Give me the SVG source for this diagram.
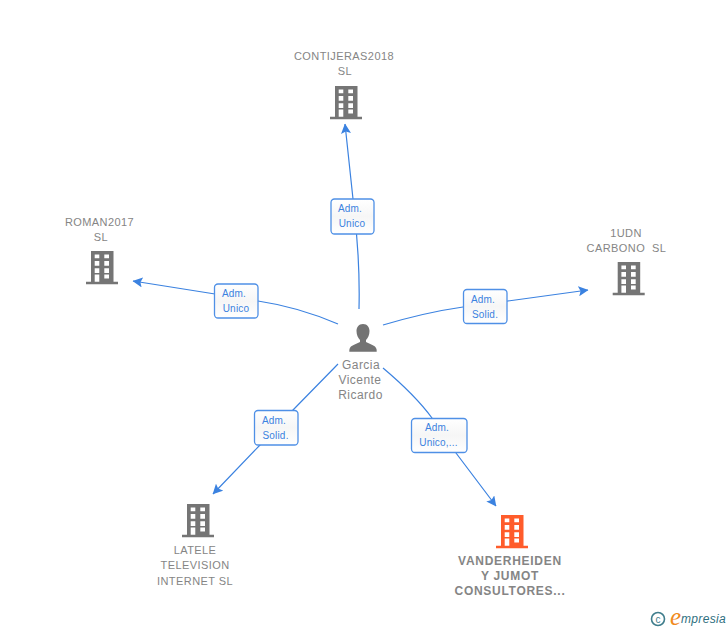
<svg xmlns="http://www.w3.org/2000/svg" width="728" height="630" viewBox="0 0 728 630">
<style>
.n{font:11px "Liberation Sans",Arial,sans-serif;fill:#858585;text-anchor:middle;letter-spacing:.42px}
.c{font-size:12px;letter-spacing:.45px}
.v{font-size:12px;font-weight:bold;letter-spacing:.72px}
.l{font:10px "Liberation Sans",Arial,sans-serif;fill:#3b82e0;text-anchor:middle;letter-spacing:.2px}
.b{fill:url(#g);stroke:#4f90e6;stroke-width:1.3}
.e{fill:none;stroke:#3b82e0;stroke-width:1.200;marker-end:url(#a)}
</style>
<defs>
<marker id="a" viewBox="0 0 10 10" refX="9.500" refY="5" markerUnits="userSpaceOnUse" markerWidth="10" markerHeight="10" orient="auto"><path d="M0 0L10 5L0 10L2 5Z" fill="#3b82e0"/></marker>
<linearGradient id="g" x1="0" y1="0" x2="0" y2="1"><stop offset="0" stop-color="#fff"/><stop offset=".5" stop-color="#f6f6f6"/><stop offset="1" stop-color="#fff"/></linearGradient>
<path id="bld" fill-rule="evenodd" d="M-11 0H11.500V30.700H16V33.300H-16V30.700H-11ZM-7.300 3.500V7.300H-2.700V3.500ZM2.300 3.500V7.300H7V3.500ZM-7.300 10V14.700H-2.700V10ZM2.300 10V14.700H7V10ZM-7.300 17.300V22H-2.700V17.300ZM2.300 17.300V22H7V17.300ZM-7.300 23.500V30.700H-2.700V23.500ZM2.300 23.500V27.500H7V23.500Z"/>
</defs>
<rect width="728" height="630" fill="#fff"/>
<g id="connectors">
<path class="e" d="M359 309C360 270 358 240 353 199L345 124"/>
<path class="e" d="M338 324C310 312 285 305 258 301L215 294L133 281"/>
<path class="e" d="M383 325C410 317 435 311 463 307L508 301L588 290"/>
<path class="e" d="M338 364L293 410L260 445L213 494"/>
<path class="e" d="M383 368C402 384 418 399 432 418L456 453L496 506"/>
</g>
<g id="label-top"><rect class="b" x="331" y="199" width="43" height="35" rx="3.500"/><text class="l" x="350" y="212">Adm.</text><text class="l" x="352" y="227">Unico</text></g>
<g id="label-left"><rect class="b" x="214.500" y="284" width="43.500" height="34" rx="3.500"/><text class="l" x="234" y="297">Adm.</text><text class="l" x="236" y="312">Unico</text></g>
<g id="label-right"><rect class="b" x="463.500" y="289.500" width="43.500" height="34" rx="3.500"/><text class="l" x="483" y="303">Adm.</text><text class="l" x="485" y="318">Solid.</text></g>
<g id="label-ll"><rect class="b" x="254.500" y="410.500" width="43.500" height="34.500" rx="3.500"/><text class="l" x="274" y="424">Adm.</text><text class="l" x="275.500" y="439">Solid.</text></g>
<g id="label-lr"><rect class="b" x="411.500" y="418.500" width="55.500" height="34" rx="3.500"/><text class="l" x="437" y="431">Adm.</text><text class="l" x="438.500" y="446">Unico,...</text></g>
<g id="person" fill="#737373">
<path d="M363 324C358.500 324 356.500 327.500 356.500 331C356.500 335 358 338 360 340V342C356 344.500 350.500 345 349.500 349C349.300 350 349.300 351 349.300 351.700H376.700C376.700 351 376.700 350 376.500 349C375.500 345 370 344.500 366 342V340C368 338 369.500 335 369.500 331C369.500 327.500 367.500 324 363 324Z"/>
<text class="n c" x="361" y="369">Garcia</text><text class="n c" x="360" y="384">Vicente</text><text class="n c" x="360.500" y="399">Ricardo</text>
</g>
<g id="contijeras" fill="#757575"><use href="#bld" x="346" y="86"/><text class="n" x="344" y="60">CONTIJERAS2018</text><text class="n" x="345" y="75">SL</text></g>
<g id="roman" fill="#757575"><use href="#bld" x="102" y="251"/><text class="n" x="99.500" y="226">ROMAN2017</text><text class="n" x="101" y="241">SL</text></g>
<g id="carbono" fill="#757575"><use href="#bld" x="628.700" y="262"/><text class="n" x="626" y="237">1UDN</text><text class="n" x="626.500" y="252" xml:space="preserve">CARBONO  SL</text></g>
<g id="latele" fill="#757575"><use href="#bld" x="198" y="504"/><text class="n" x="195" y="554">LATELE</text><text class="n" x="195" y="569">TELEVISION</text><text class="n" x="195" y="585">INTERNET SL</text></g>
<g id="vanderheiden" fill="#ff5c2b"><use href="#bld" x="512" y="515"/><text class="n v" x="510" y="565">VANDERHEIDEN</text><text class="n v" x="510" y="580">Y JUMOT</text><text class="n v" x="510" y="595">CONSULTORES...</text></g>
<g id="logo"><circle cx="658" cy="619" r="6.500" fill="none" stroke="#3f7d8c" stroke-width="1.600"/><text x="658" y="622.500" font-family="Liberation Sans,sans-serif" font-size="10" fill="#3f7d8c" text-anchor="middle">c</text><text x="670" y="625" font-family="Liberation Serif,serif" font-style="italic" font-size="25" fill="#f08a1d">e</text><text x="681" y="623" font-family="Liberation Sans,sans-serif" font-style="italic" font-size="12" fill="#2f6f80" letter-spacing=".35">mpresia</text></g>
</svg>
